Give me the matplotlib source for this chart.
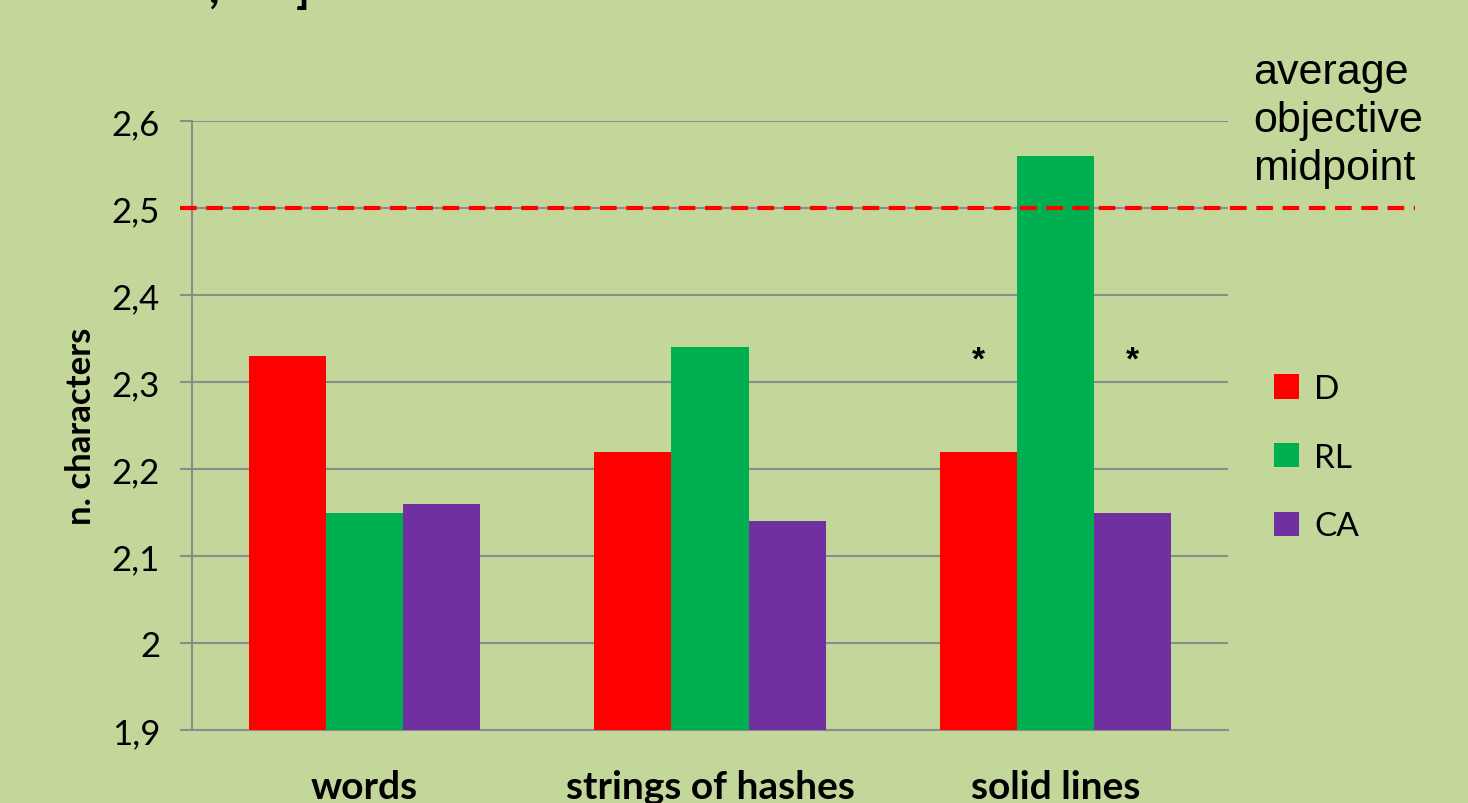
import matplotlib
matplotlib.use("Agg")
import matplotlib.pyplot as plt
import numpy as np
from matplotlib.patches import Patch
from matplotlib.lines import Line2D

categories = ["words", "strings of hashes", "solid lines"]
series_names = ["D", "RL", "CA"]
D_vals = [2.33, 2.22, 2.22]
RL_vals = [2.15, 2.34, 2.56]
CA_vals = [2.16, 2.14, 2.15]
y_ticks = [1.9, 2.0, 2.1, 2.2, 2.3, 2.4, 2.5, 2.6]
y_ticklabels = ["1,9", "2", "2,1", "2,2", "2,3", "2,4", "2,5", "2,6"]
midpoint = 2.5
star_groups = [2, 2]
star_series = [0, 2]
star_y = 2.325

colors = ["#FF0000", "#00B050", "#7030A0"]
bg = "#C4D79B"
grid_c = "#8C8C8C"

W, H = 1468, 804
fig = plt.figure(figsize=(W / 100, H / 100), dpi=100, facecolor=bg)
ax = fig.add_axes([192 / W, 1 - 731 / H, (1228 - 192) / W, (731 - 122) / H])
ax.set_facecolor(bg)

x = np.arange(len(categories))
bw = 0.223
series = [D_vals, RL_vals, CA_vals]
for i, (vals, c) in enumerate(zip(series, colors)):
    ax.bar(x + (i - 1) * bw, vals, width=bw, color=c, zorder=3, label=series_names[i])

ax.set_xlim(-0.5, len(categories) - 0.5)
ax.set_ylim(1.9, 2.6)
ax.set_yticks(y_ticks)
ax.set_yticklabels(y_ticklabels, fontsize=25, family="Lato")
ax.set_xticks(x)
ax.set_xticklabels(categories, fontsize=28, fontweight="bold", family="Lato")
ax.tick_params(axis="x", length=0, pad=28)
ax.tick_params(axis="y", length=9, width=1.5, color=grid_c, pad=14)
ax.yaxis.grid(True, color=grid_c, linewidth=1.5, zorder=0)
ax.set_axisbelow(True)
for s in ["top", "right"]:
    ax.spines[s].set_visible(False)
for s in ["left", "bottom"]:
    ax.spines[s].set_color(grid_c)
    ax.spines[s].set_linewidth(1.5)

ax.set_ylabel("n. characters", fontsize=25, fontweight="bold", family="Lato")
ax.yaxis.set_label_coords(-0.0917, 0.5)

# dashed midpoint line, extending beyond axes to the right
trans = matplotlib.transforms.blended_transform_factory(fig.transFigure, ax.transData)
ax.add_line(Line2D([180 / W, 1415 / W], [midpoint, midpoint], transform=trans,
                   color="#FF0000", linewidth=3, linestyle=(0, (4, 2.3)), clip_on=False, zorder=4))

fig.text(1253 / W, 1 - 121 / H, "average\nobjective\nmidpoint", fontsize=31,
         family="Liberation Sans", va="center", ha="left", linespacing=1.26)

for g, si in zip(star_groups, star_series):
    ax.text(g + (si - 1) * bw, star_y, "*", ha="center", va="center", fontsize=24,
            fontweight="bold", family="Liberation Sans", zorder=5)

handles = [Patch(facecolor=c, edgecolor="none") for c in colors]
leg = ax.legend(handles, series_names, loc="upper left", frameon=False,
                bbox_to_anchor=(1244 / W, 1 - 345 / H), bbox_transform=fig.transFigure,
                handlelength=0.75, handleheight=0.75, handletextpad=0.45,
                labelspacing=1.16, prop={"family": "Lato", "size": 24})

# cropped title remnants at top
fig.text(208 / W, 1 - 3 / H, ",", fontsize=32, fontweight="bold", family="Lato", va="baseline")
fig.text(296 / W, 1 - 3 / H, "]", fontsize=32, fontweight="bold", family="Lato", va="baseline")

fig.savefig("out.png", dpi=100, facecolor=bg)
